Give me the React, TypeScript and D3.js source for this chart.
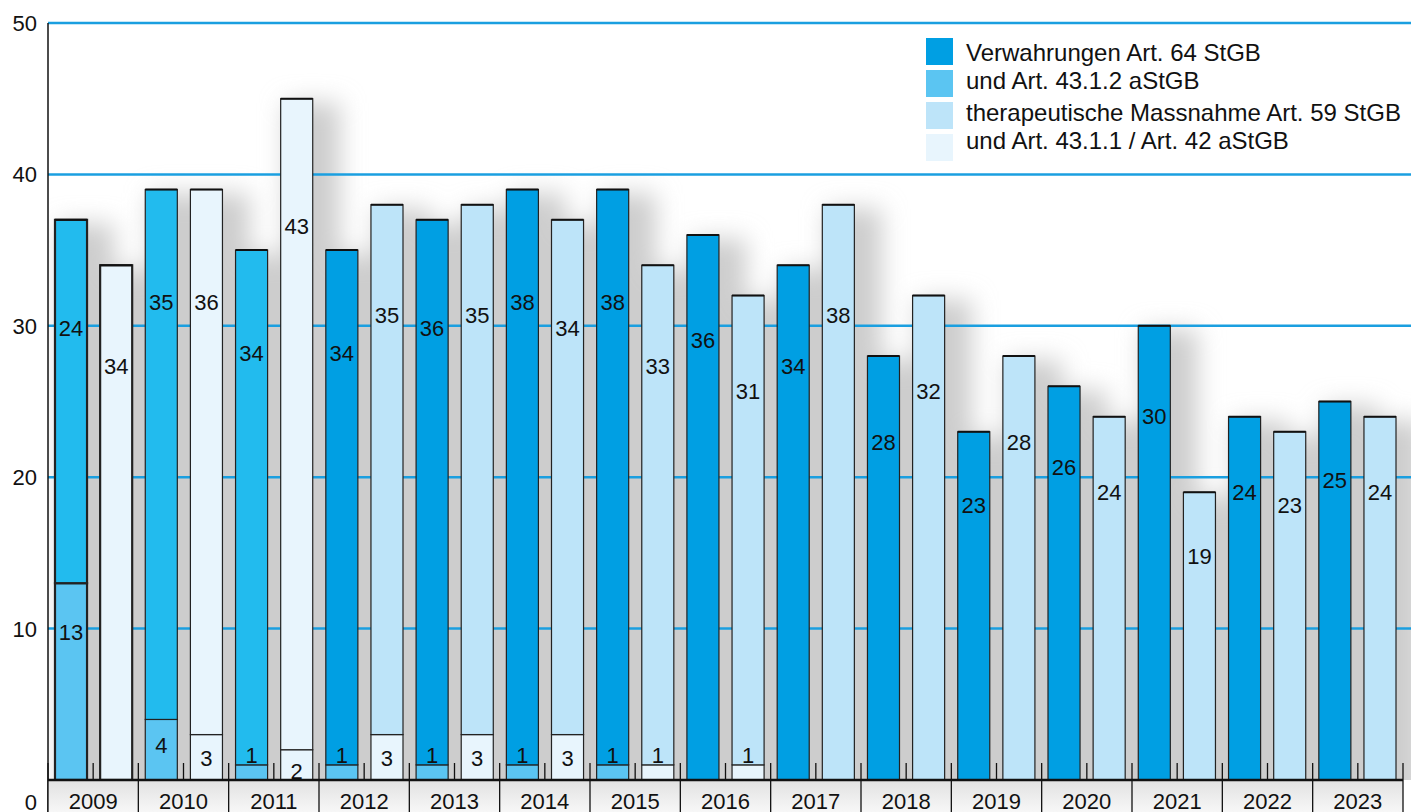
import React from 'react';
import * as d3 from 'd3';

const years = [2009, 2010, 2011, 2012, 2013, 2014, 2015, 2016, 2017, 2018, 2019, 2020, 2021, 2022, 2023];
// Verwahrungen Art. 64 StGB (top of left bar)
const verwahrungNeu = [24, 35, 34, 34, 36, 38, 38, 36, 34, 28, 23, 26, 30, 24, 25];
// Art. 43.1.2 aStGB (bottom of left bar)
const verwahrungAlt = [13, 4, 1, 1, 1, 1, 1, 0, 0, 0, 0, 0, 0, 0, 0];
// therapeutische Massnahme Art. 59 StGB (top of right bar)
const massnahmeNeu = [34, 36, 43, 35, 35, 34, 33, 31, 38, 32, 28, 24, 19, 23, 24];
// Art. 43.1.1 / Art. 42 aStGB (bottom of right bar)
const massnahmeAlt = [0, 3, 2, 3, 3, 3, 1, 1, 0, 0, 0, 0, 0, 0, 0];
const yTicks = [0, 10, 20, 30, 40, 50];
const gridTicks = [10, 20, 30, 40, 50];
const legendLines = [
  'Verwahrungen Art. 64 StGB',
  'und Art. 43.1.2 aStGB',
  'therapeutische Massnahme Art. 59 StGB',
  'und Art. 43.1.1 / Art. 42 aStGB',
];

const W = 1411;
const H = 812;
const FONT = "'Liberation Sans', Arial, Helvetica, sans-serif";
const C = {
  dark: '#009fe3',
  cyan: '#22bbee',
  medium: '#5bc5f2',
  light: '#bde4f9',
  vlight: '#e8f5fd',
  grid: '#1a9fe0',
};

type Seg = { y0: number; y1: number; color: string; value: number };
type Bar = { key: string; x: number; segs: Seg[]; total: number; thick: boolean };

export default function App() {
  const left = 48;
  const right = 1403;
  const y = d3.scaleLinear().domain([0, 50]).range([780, 23]);
  const yearScale = d3.scaleBand<number>().domain(years).range([left, right]).padding(0);
  const slots = years.flatMap((yr) => [`${yr}-L`, `${yr}-R`]);
  const slotScale = d3.scaleBand<string>().domain(slots).range([left, right]).paddingInner(0.29).paddingOuter(0.155);
  const bw = slotScale.bandwidth();

  const bars: Bar[] = [];
  years.forEach((yr, i) => {
    const transitional = yr <= 2011;
    const lSegs: Seg[] = [];
    if (verwahrungAlt[i] > 0) lSegs.push({ y0: 0, y1: verwahrungAlt[i], color: C.medium, value: verwahrungAlt[i] });
    lSegs.push({ y0: verwahrungAlt[i], y1: verwahrungAlt[i] + verwahrungNeu[i], color: transitional ? C.cyan : C.dark, value: verwahrungNeu[i] });
    bars.push({ key: `${yr}-L`, x: slotScale(`${yr}-L`)!, segs: lSegs, total: verwahrungAlt[i] + verwahrungNeu[i], thick: yr === 2009 });
    const rSegs: Seg[] = [];
    if (massnahmeAlt[i] > 0) rSegs.push({ y0: 0, y1: massnahmeAlt[i], color: C.vlight, value: massnahmeAlt[i] });
    rSegs.push({ y0: massnahmeAlt[i], y1: massnahmeAlt[i] + massnahmeNeu[i], color: transitional ? C.vlight : C.light, value: massnahmeNeu[i] });
    bars.push({ key: `${yr}-R`, x: slotScale(`${yr}-R`)!, segs: rSegs, total: massnahmeAlt[i] + massnahmeNeu[i], thick: yr === 2009 });
  });

  const labelCenter = (s: Seg) => {
    if (s.y1 < 2) return y(s.y1) - 10;
    return y(0.836 * s.y1 - 1.06);
  };

  const halfTicks = d3.range(0, slots.length + 1).map((k) => left + (k * (right - left)) / slots.length);
  const yearEdges = d3.range(0, years.length + 1).map((k) => left + k * yearScale.step());

  return (
    <svg width={W} height={H} style={{ position: 'absolute', left: 0, top: 0, background: '#fff' }} fontFamily={FONT}>
      <defs>
        <filter id="shadowBlur" x="-20%" y="-20%" width="140%" height="140%">
          <feGaussianBlur stdDeviation="12" />
        </filter>
        <clipPath id="plotClip">
          <rect x={left} y={0} width={W - left} height={780} />
        </clipPath>
        <linearGradient id="rowGrad" x1="0" y1="0" x2="0" y2="1">
          <stop offset="0" stopColor="#e2e2e2" />
          <stop offset="1" stopColor="#f7f7f7" />
        </linearGradient>
      </defs>

      {/* shadows */}
      <g clipPath="url(#plotClip)">
        <g filter="url(#shadowBlur)">
          {bars.map((b) => (
            <rect key={`sh-${b.key}`} x={b.x + 5} y={y(b.total) + 4} width={bw + 22} height={780 - y(b.total) + 20} fill="#cdcdcd" />
          ))}
        </g>
      </g>

      {/* gridlines */}
      {gridTicks.map((t) => (
        <line key={`g${t}`} x1={left} x2={W} y1={y(t)} y2={y(t)} stroke={C.grid} strokeWidth={2.5} />
      ))}

      {/* bars */}
      {bars.map((b) => (
        <g key={b.key}>
          {b.segs.map((s, j) => (
            <rect
              key={j}
              x={b.x}
              y={y(s.y1)}
              width={bw}
              height={y(s.y0) - y(s.y1)}
              fill={s.color}
              stroke="#222"
              strokeWidth={b.thick ? 2.2 : 1.2}
            />
          ))}
          <line x1={b.x} x2={b.x + bw} y1={y(b.total)} y2={y(b.total)} stroke="#111" strokeWidth={2} />
        </g>
      ))}

      {/* bar labels */}
      {bars.map((b) =>
        b.segs.map((s, j) => (
          <text
            key={`${b.key}-t${j}`}
            x={b.x + bw / 2}
            y={labelCenter(s) + 8}
            textAnchor="middle"
            fontSize={22}
            fill="#111"
          >
            {s.value}
          </text>
        ))
      )}

      {/* y axis */}
      <line x1={left} x2={left} y1={y(50)} y2={H} stroke="#111" strokeWidth={1.5} />
      {yTicks.map((t) => (
        <text key={`yl${t}`} x={37} y={(t === 0 ? y(0) + 22 : y(t)) + 8} textAnchor="end" fontSize={22} fill="#111">
          {t}
        </text>
      ))}

      {/* category row */}
      <rect x={left} y={781} width={right - left} height={H - 781} fill="url(#rowGrad)" />
      {halfTicks.map((x, k) => (
        <line key={`ht${k}`} x1={x} x2={x} y1={763} y2={780} stroke="#111" strokeWidth={1.3} />
      ))}
      {yearEdges.map((x, k) => (
        <line key={`ye${k}`} x1={x} x2={x} y1={780} y2={H} stroke="#111" strokeWidth={1.3} />
      ))}
      <line x1={left} x2={right} y1={780} y2={780} stroke="#111" strokeWidth={2.5} />
      {years.map((yr) => (
        <text key={`yr${yr}`} x={yearScale(yr)! + yearScale.bandwidth() / 2} y={809} textAnchor="middle" fontSize={22} fill="#111">
          {yr}
        </text>
      ))}

      {/* legend */}
      {[C.dark, C.medium, C.light, C.vlight].map((c, k) => (
        <rect key={`lg${k}`} x={926} y={38 + k * 32} width={27} height={27} fill={c} />
      ))}
      {legendLines.map((t, k) => (
        <text key={`lt${k}`} x={966} y={[61, 88.5, 120.5, 148.5][k]} fontSize={24} fill="#111">
          {t}
        </text>
      ))}
    </svg>
  );
}
